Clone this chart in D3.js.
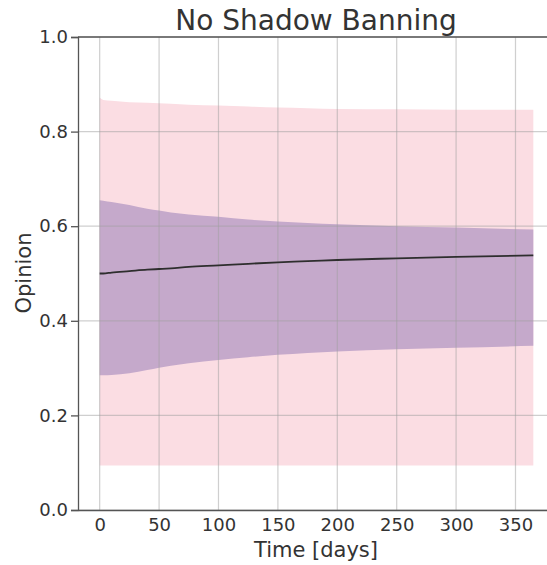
<!DOCTYPE html>
<html>
<head>
<meta charset="utf-8">
<script src="https://cdn.jsdelivr.net/npm/d3@7"></script>
<style>
  html, body { margin: 0; padding: 0; background: #fff; }
  svg text { font-family: "DejaVu Sans", sans-serif; fill: #333; }
</style>
</head>
<body>
<svg id="chart" width="547" height="565"></svg>
<script>
// Simulated opinion over one year without shadow banning
const days      = [0, 3, 10, 25, 40, 50, 60, 75, 100, 125, 150, 175, 200, 250, 300, 365];
const meanOp    = [0.500, 0.500, 0.502, 0.505, 0.508, 0.5095, 0.511, 0.514, 0.517, 0.5205, 0.5236, 0.526, 0.5285, 0.532, 0.535, 0.5384];
const innerHigh = [0.655, 0.654, 0.651, 0.645, 0.637, 0.633, 0.629, 0.625, 0.620, 0.614, 0.610, 0.607, 0.604, 0.600, 0.597, 0.593];
const innerLow  = [0.285, 0.285, 0.2855, 0.289, 0.296, 0.301, 0.305, 0.310, 0.317, 0.323, 0.328, 0.332, 0.335, 0.340, 0.343, 0.347];
const outerHigh = [0.872, 0.867, 0.865, 0.862, 0.861, 0.860, 0.859, 0.857, 0.855, 0.853, 0.851, 0.8495, 0.848, 0.847, 0.846, 0.846];
const outerLow  = [0.094, 0.094, 0.094, 0.094, 0.094, 0.094, 0.094, 0.094, 0.094, 0.094, 0.094, 0.094, 0.094, 0.094, 0.094, 0.094];
const xTicks = [0, 50, 100, 150, 200, 250, 300, 350];
const yTicks = [0.0, 0.2, 0.4, 0.6, 0.8, 1.0];

const svg = d3.select("#chart");
const plotLeft = 78, plotTop = 37, plotBottom = 510, plotRight = 555;

const x = d3.scaleLinear().domain([-18.25, 383.25]).range([plotLeft, plotRight]);
const y = d3.scaleLinear().domain([0, 1]).range([plotBottom, plotTop]);

const rows = days.map((d, i) => ({
  d, m: meanOp[i], ih: innerHigh[i], il: innerLow[i], oh: outerHigh[i], ol: outerLow[i]
}));

const curve = d3.curveMonotoneX;

// outer spread
svg.append("path").datum(rows)
  .attr("fill", "#fbdde3")
  .attr("d", d3.area().curve(curve).x(r => x(r.d)).y0(r => y(r.ol)).y1(r => y(r.oh)));

// inner spread
svg.append("path").datum(rows)
  .attr("fill", "#c5a9cb")
  .attr("d", d3.area().curve(curve).x(r => x(r.d)).y0(r => y(r.il)).y1(r => y(r.ih)));

// grid
const grid = svg.append("g").attr("stroke", "rgba(160,160,160,0.5)").attr("stroke-width", 1.2);
xTicks.forEach(t => grid.append("line")
  .attr("x1", x(t)).attr("x2", x(t)).attr("y1", plotTop).attr("y2", plotBottom));
yTicks.forEach(t => grid.append("line")
  .attr("x1", plotLeft).attr("x2", plotRight).attr("y1", y(t)).attr("y2", y(t)));

// mean opinion
svg.append("path").datum(rows)
  .attr("fill", "none")
  .attr("stroke", "#2e2e2e")
  .attr("stroke-width", 1.8)
  .attr("d", d3.line().curve(curve).x(r => x(r.d)).y(r => y(r.m)));

// axes
const xAxis = svg.append("g").attr("transform", `translate(0,${plotBottom})`)
  .call(d3.axisBottom(x).tickValues(xTicks).tickSize(0).tickPadding(8).tickFormat(d3.format("d")));
const yAxis = svg.append("g").attr("transform", `translate(${plotLeft},0)`)
  .call(d3.axisLeft(y).tickValues(yTicks).tickSize(7).tickPadding(3).tickFormat(d3.format(".1f")));
[xAxis, yAxis].forEach(g => {
  g.select(".domain").attr("stroke", "#555").attr("stroke-width", 1.3);
  g.selectAll(".tick line").attr("stroke", "#555").attr("stroke-width", 1.3);
  g.selectAll(".tick text").attr("font-size", 18).attr("fill", "#333")
    .style("font-family", "DejaVu Sans, sans-serif");
});

// top spine
svg.append("line").attr("x1", plotLeft).attr("x2", plotRight).attr("y1", plotTop).attr("y2", plotTop)
  .attr("stroke", "#555").attr("stroke-width", 1.3);

// labels
svg.append("text").attr("x", 316).attr("y", 30).attr("text-anchor", "middle")
  .attr("font-size", 28).text("No Shadow Banning");
svg.append("text").attr("x", 316).attr("y", 557).attr("text-anchor", "middle")
  .attr("font-size", 21).text("Time [days]");
svg.append("text").attr("transform", "translate(31,273) rotate(-90)").attr("text-anchor", "middle")
  .attr("font-size", 21).text("Opinion");
</script>
</body>
</html>
